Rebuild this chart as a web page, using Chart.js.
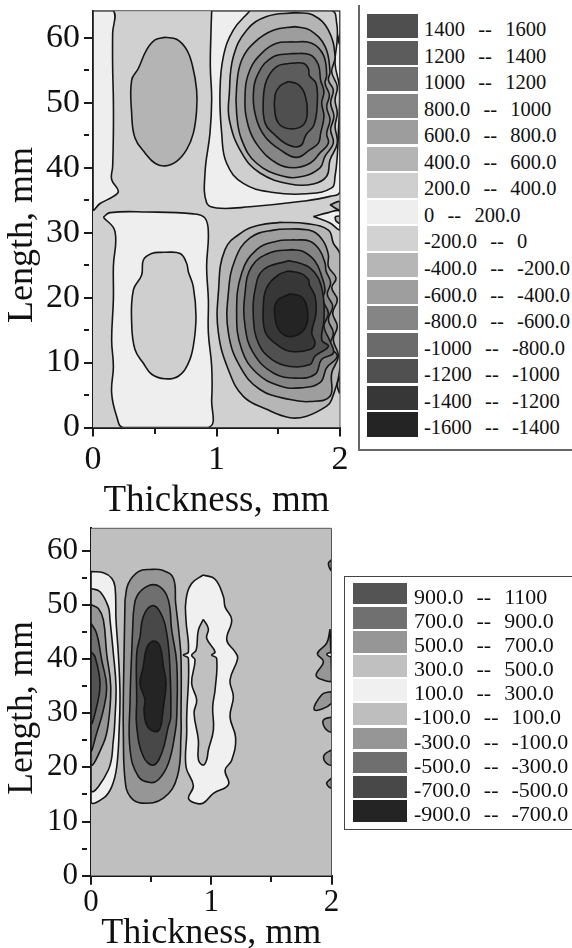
<!DOCTYPE html>
<html><head><meta charset="utf-8">
<script src="https://cdn.jsdelivr.net/npm/chart.js@4/dist/chart.umd.js"></script>
<style>
html,body{margin:0;padding:0;background:#fff;overflow:hidden}
#page{position:relative;width:572px;height:948px;overflow:hidden;font-family:"Liberation Serif",serif;color:#111}
canvas{position:absolute;left:0}
.frame{position:absolute;box-sizing:border-box}
.sw{position:absolute}
.lb{position:absolute;white-space:pre}
</style></head><body>
<div id="page">
<canvas id="c1" width="355" height="520" style="top:0"></canvas>
<canvas id="c2" width="355" height="428" style="top:520px"></canvas>
</div>
<script>
/* ---------- axis values ---------- */
const thicknessMax = 2;
const topLengthMax = 64.2;
const lowLengthMax = 64.1;

/* ---------- upper map: contour outlines as [thickness mm, length mm] ---------- */
const stripTopLeft = [[0,64.2],[.165,64.2],[.159,60.7],[.159,55.6],[.165,50.4],[.165,45.3],[.159,40.2],[.151,38.2],[.205,36.4],[.165,35.6],[.057,34.5],[0,33.6]];
const ovalTop = [[.583,60.1],[.677,59.8],[.758,58.2],[.807,55.6],[.839,52],[.839,48.9],[.812,45.3],[.758,42.8],[.677,41],[.583,40.3],[.502,40.7],[.421,42.3],[.34,44.6],[.313,48.4],[.313,53.5],[.367,55.3],[.435,58.2],[.502,59.7]];
const blockBottom = [[.084,32.4],[.138,33.1],[.435,33.2],[.812,32.9],[.907,32.25],[.934,29.9],[.92,24.8],[.934,19.7],[.934,14.6],[.961,9.4],[.961,4.3],[.934,0],[.245,0],[.192,1.7],[.151,5.3],[.165,9.4],[.151,13.5],[.165,19.7],[.165,24.8],[.178,30.2]];
const ovalBottom = [[.569,27],[.705,26.8],[.758,25.3],[.772,24],[.812,21.7],[.834,17.1],[.812,12.5],[.772,9.9],[.691,7.9],[.583,7.5],[.475,8.2],[.408,9.9],[.34,12],[.313,16.1],[.327,21.2],[.394,23.5],[.408,25.8],[.475,26.8]];
const posZero = [[.961,64.2],[2,64.2],[2,36.4],[1.919,35.6],[1.676,34.8],[1.271,34],[1.001,33.8],[.92,34.6],[.907,39.2],[.947,45.3],[.961,50.5],[.95,55.6],[.955,60.7]];
const pos200 = [[1.271,64.2],[1.933,64.2],[1.973,62.3],[1.977,59.7],[1.96,56.1],[1.995,52.5],[1.995,49],[1.987,45.3],[1.978,41.8],[1.96,38.7],[1.933,36.9],[1.73,36],[1.46,36.2],[1.217,37.6],[1.082,40.7],[1.042,45.3],[1.028,51.5],[1.055,57.1],[1.136,61.2]];
const pos400 = [[1.636,63.9],[1.784,63.5],[1.906,61.2],[1.96,57.1],[1.933,54.8],[1.978,52.5],[1.96,50.5],[1.978,48.4],[1.96,46.4],[1.978,43.8],[1.919,41.2],[1.892,38.7],[1.784,37.5],[1.595,37.5],[1.352,39.2],[1.204,42.3],[1.104,47.4],[1.104,51.5],[1.136,57.1],[1.244,61.2],[1.406,63.3]];
const pos600 = [[1.636,61.75],[1.757,61.2],[1.879,58.7],[1.919,54.8],[1.906,53.5],[1.946,52],[1.924,50],[1.951,47.9],[1.924,45.9],[1.946,43.8],[1.879,41.8],[1.838,40],[1.703,38.7],[1.541,38.7],[1.325,40.7],[1.204,44.3],[1.163,48.4],[1.163,52.5],[1.204,56.6],[1.312,59.4],[1.46,61.2]];
const pos800 = [[1.609,59.4],[1.771,59.2],[1.865,57.4],[1.892,54.3],[1.879,53],[1.914,51.2],[1.892,49.4],[1.919,47.4],[1.892,45.3],[1.906,43.8],[1.838,42.3],[1.757,40.7],[1.622,40],[1.487,40.7],[1.339,43.3],[1.258,46.4],[1.231,51],[1.271,55.1],[1.379,57.9],[1.487,59.2]];
const pos1000 = [[1.609,57.6],[1.757,57.4],[1.825,55.85],[1.843,53.5],[1.87,51.7],[1.852,50],[1.87,47.9],[1.843,45.3],[1.825,43.8],[1.757,42.8],[1.649,41.6],[1.514,42.8],[1.393,44.8],[1.325,47.4],[1.298,51],[1.339,54.6],[1.46,57.1]];
const pos1200 = [[1.595,56.1],[1.703,56.1],[1.744,55.3],[1.752,54.2],[1.806,53],[1.816,50],[1.789,46.6],[1.725,45.1],[1.681,43.4],[1.582,43.5],[1.46,45.3],[1.393,46.9],[1.379,50.5],[1.406,53.5],[1.487,55.6]];
const pos1400 = [[1.582,53.3],[1.663,52.8],[1.717,51.2],[1.735,48.4],[1.703,46.6],[1.609,46],[1.514,46.6],[1.474,48.4],[1.474,51.2],[1.514,52.6]];
const neg200 = [[1.514,31.6],[1.73,31.4],[1.906,30.4],[1.946,28.4],[2,26.6],[2,9.4],[1.933,4.3],[1.892,3.3],[1.73,1.75],[1.595,1.5],[1.406,2.8],[1.217,4.8],[1.096,8.9],[1.015,14.6],[1.015,20.7],[1.069,27.4],[1.217,30.2],[1.352,31.2]];
const neg400 = [[1.649,30.6],[1.784,30.2],[1.865,28.7],[1.906,26.6],[1.906,24.8],[1.968,23],[1.933,21.5],[1.978,19.7],[1.941,17.6],[1.978,15.6],[1.946,13.5],[1.987,11],[1.933,8.4],[1.919,4.8],[1.757,4],[1.595,4.3],[1.352,5.85],[1.19,9.4],[1.096,14.6],[1.096,20.7],[1.15,25.85],[1.271,29.2],[1.46,30.4]];
const neg600 = [[1.622,28.9],[1.757,28.7],[1.833,27.4],[1.879,25.3],[1.887,24.1],[1.924,22.3],[1.897,20.5],[1.941,18.7],[1.906,16.6],[1.946,14.6],[1.919,12.5],[1.978,11],[1.892,9.2],[1.838,6.9],[1.676,6.1],[1.514,6.4],[1.325,8.4],[1.204,12],[1.163,17.6],[1.204,23.8],[1.325,27.4],[1.487,28.7]];
const neg800 = [[1.609,27.4],[1.703,27.1],[1.798,25.6],[1.852,23.3],[1.879,21.2],[1.86,19.7],[1.906,17.6],[1.87,15.6],[1.914,13.5],[1.946,11.5],[1.852,10.5],[1.798,8.2],[1.649,7.6],[1.46,8.4],[1.298,11.5],[1.231,15.6],[1.231,20.7],[1.285,24.8],[1.433,26.9]];
const neg1000 = [[1.582,25.7],[1.676,25.3],[1.757,24.6],[1.825,23],[1.865,20.2],[1.87,16.6],[1.852,13.5],[1.906,12.5],[1.798,11],[1.757,9.7],[1.595,9.4],[1.447,10.5],[1.339,13],[1.298,17.1],[1.312,21.2],[1.379,24.3]];
const neg1200 = [[1.582,24.1],[1.69,23.7],[1.744,22.8],[1.752,22],[1.798,20.2],[1.806,17.6],[1.771,14.6],[1.798,13],[1.757,12],[1.595,11.75],[1.474,13],[1.393,14.8],[1.379,18.7],[1.406,21.5],[1.501,23.5]];
const neg1400 = [[1.595,20.6],[1.69,20.1],[1.735,18.2],[1.717,15.3],[1.609,14],[1.514,14.8],[1.474,16.9],[1.487,19.4]];
const wedgeRight = [[1.784,32.5],[1.906,33.1],[2,33.3],[2,30.5],[1.919,31.5]];
const patchRightA = [[1.919,34.3],[2,34.8],[2,33.5]];
const patchRightB = [[1.96,32.5],[2,32.5],[2,31.5],[1.968,31.8]];
const lensRight = [[2,7.9],[1.978,6.6],[2,5.3]];
const nickRight = [[2,60.7],[1.987,59.7],[2,59]];

/* ---------- lower map ---------- */
const leftA = [[0,56.1],[.103,55.9],[.172,54.9],[.2,53.3],[.208,47.2],[.227,41],[.241,33.6],[.235,27.5],[.214,20.1],[.172,16.4],[.103,14.3],[0,13.7]];
const leftB = [[0,53],[.075,52.4],[.144,49.6],[.158,47.2],[.186,41],[.208,34.9],[.2,29.3],[.186,25],[.144,19.5],[0,15.9]];
const leftC = [[0,50],[.061,49.3],[.103,47.2],[.13,41],[.164,34.9],[.144,28.1],[.103,24.4],[0,20.7]];
const leftD = [[0,46.6],[.047,44.7],[.089,39.8],[.13,34.9],[.103,30.6],[.047,26.3],[0,23.2]];
const leftE = [[0,41.3],[.033,40.4],[.075,35.5],[.047,31.2],[0,28.1]];
const midA = [[.283,50.9],[.31,53.9],[.394,56.1],[.491,56.5],[.602,56.3],[.685,54.9],[.704,50.3],[.732,44.7],[.749,39.8],[.749,29.3],[.749,26.3],[.718,18.3],[.602,14.3],[.422,13.4],[.325,14.6],[.283,17.7],[.269,26.3],[.269,32.4],[.275,41]];
const midB = [[.352,48.4],[.38,51.5],[.477,53.5],[.574,53.3],[.643,50.9],[.671,45.3],[.713,39.2],[.713,29.3],[.699,26.3],[.643,20.7],[.56,17.7],[.491,17.2],[.394,18.3],[.325,23.2],[.325,32.4],[.338,41]];
const midC = [[.408,44.1],[.435,47.8],[.505,49.8],[.574,48.7],[.63,44.7],[.657,37.9],[.663,29.3],[.643,27.5],[.588,22.6],[.519,20.4],[.435,22],[.38,27.5],[.38,32.4],[.38,41]];
const midD = [[.449,41],[.477,42.6],[.524,43.3],[.574,42.3],[.602,38.6],[.624,35.5],[.602,31],[.596,30],[.574,27.2],[.524,26.6],[.463,27.8],[.441,30.6],[.449,32.4],[.408,35.5],[.435,38.6]];
const blobOuter = [[.934,55.5],[1.032,54.7],[1.101,51.5],[1.115,49.6],[1.17,47.2],[1.129,43.5],[1.198,41.3],[1.22,40.1],[1.156,36.1],[1.184,33],[1.156,29.3],[1.203,25.4],[1.17,21.3],[1.115,19.5],[1.143,16.8],[1.018,15.2],[.934,13.4],[.865,13.4],[.81,14.3],[.851,16.6],[.79,20.1],[.796,26.3],[.796,29.3],[.81,40.1],[.768,40.7],[.81,41.3],[.79,47.2],[.79,50.9],[.837,53.9]];
const blobInner = [[.934,47.3],[.976,45.6],[.962,43.8],[1.032,41.3],[1.004,40.7],[1.045,40.1],[1.032,34.3],[1.012,31.2],[1.018,26.9],[.976,23.2],[.962,21.4],[.934,20.4],[.893,21.4],[.893,25],[.857,30],[.879,32.4],[.837,35.5],[.865,39.8],[.837,40.7],[.874,41.6],[.893,45.3]];
const edgeA = [[2,58.3],[1.974,57.6],[2,56.3]];
const edgeB = [[1.988,45.5],[1.96,42.9],[1.883,41],[1.933,39.5],[1.872,37],[1.933,36.1],[2,36.1]];
const edgeBHole = [[2,41.3],[1.96,40.85],[2,40.4]];
const edgeC = [[2,34],[1.919,33.4],[1.858,30.6],[2,31.8]];
const edgeD = [[2,29.3],[1.933,28.7],[1.947,27.2],[2,26.6]];
const edgeE = [[2,23.2],[1.94,22.3],[1.947,21],[2,20.5]];
const edgeF = [[2,18],[1.96,17],[2,16.2]];

/* ---------- legends ---------- */
const topLegendLabels = ["1400  --  1600","1200  --  1400","1000  --  1200","800.0  --  1000","600.0  --  800.0","400.0  --  600.0","200.0  --  400.0","0  --  200.0","-200.0  --  0","-400.0  --  -200.0","-600.0  --  -400.0","-800.0  --  -600.0","-1000  --  -800.0","-1200  --  -1000","-1400  --  -1200","-1600  --  -1400"];
const topLegendColors = ["#4f4f4f","#5c5c5c","#707070","#868686","#9d9d9d","#b4b4b4","#cfcfcf","#eeeeee","#d2d2d2","#b6b6b6","#9e9e9e","#858585","#6b6b6b","#505050","#373737","#242424"];
const lowLegendLabels = ["900.0  --  1100","700.0  --  900.0","500.0  --  700.0","300.0  --  500.0","100.0  --  300.0","-100.0  --  100.0","-300.0  --  -100.0","-500.0  --  -300.0","-700.0  --  -500.0","-900.0  --  -700.0"];
const lowLegendColors = ["#545454","#707070","#969696","#c0c0c0","#f0f0f0","#bebebe","#969696","#6f6f6f","#484848","#242424"];

/* ---------- painting order, back to front ---------- */
const topLayers = [
 [[[0,0],[2,0],[2,64.2],[0,64.2]],"#d0d0d0",0],
 [stripTopLeft,"#eeeeee"],[ovalTop,"#b4b4b4"],[blockBottom,"#eeeeee"],[ovalBottom,"#cfcfcf"],
 [posZero,"#eeeeee"],[pos200,"#cfcfcf"],[pos400,"#b4b4b4"],[pos600,"#9d9d9d"],[pos800,"#868686"],[pos1000,"#707070"],[pos1200,"#5c5c5c"],[pos1400,"#4f4f4f"],
 [neg200,"#b6b6b6"],[neg400,"#9e9e9e"],[neg600,"#858585"],[neg800,"#6b6b6b"],[neg1000,"#505050"],[neg1200,"#373737"],[neg1400,"#242424"],
 [wedgeRight,"#eeeeee"],[patchRightA,"#b4b4b4"],[patchRightB,"#b6b6b6"],[lensRight,"#b6b6b6"],[nickRight,"#9d9d9d"]
];
const lowLayers = [
 [[[0,0],[2,0],[2,64.1],[0,64.1]],"#bfbfbf",0],
 [leftA,"#f0f0f0"],[leftB,"#c0c0c0"],[leftC,"#969696"],[leftD,"#707070"],[leftE,"#545454"],
 [midA,"#969696"],[midB,"#6f6f6f"],[midC,"#484848"],[midD,"#242424"],
 [blobOuter,"#f0f0f0"],[blobInner,"#c0c0c0"],
 [edgeA,"#969696"],[edgeB,"#969696"],[edgeBHole,"#f0f0f0"],[edgeC,"#969696"],[edgeD,"#969696"],[edgeE,"#969696"],[edgeF,"#969696"]
];

function toDatasets(layers){
  return layers.map((l,i)=>{
    const pts=l[0].concat([l[0][0]]).map(p=>({x:p[0],y:p[1]}));
    const isBase=l[2]===0;
    return {data:pts,showLine:true,fill:'shape',backgroundColor:l[1],
      borderColor:isBase?'transparent':'#161616',borderWidth:isBase?0:1.6,
      tension:isBase?0:0.42,pointRadius:0,pointHoverRadius:0,order:layers.length-i};
  });
}
const frame={id:'frame',afterDatasetsDraw(c){
  const a=c.chartArea,x=c.ctx;x.save();x.strokeStyle='#555';x.lineWidth=1;
  x.beginPath();x.moveTo(a.left,a.top);x.lineTo(a.right,a.top);x.lineTo(a.right,a.bottom);x.stroke();x.restore();
}};
function shiftTitle(dy){return {id:'shiftTitle',beforeDraw(c){
  const s=c.scales.y;if(s._shifted)return;s._shifted=true;const o=s.drawTitle;
  s.drawTitle=function(){c.ctx.save();c.ctx.translate(0,dy);o.call(this);c.ctx.restore();};
}};}
function make(id,layers,o){
  const serif='"Liberation Serif"';
  const noPad=s=>{s.paddingLeft=s.paddingRight=s.paddingTop=s.paddingBottom=0;};
  new Chart(document.getElementById(id),{type:'scatter',
    data:{datasets:toDatasets(layers)},
    plugins:[frame,shiftTitle(o.titleShift)],
    options:{responsive:false,animation:false,events:[],
      layout:{padding:{left:0,top:o.top,right:o.right,bottom:0}},
      plugins:{legend:{display:false},tooltip:{enabled:false}},
      scales:{
        x:{type:'linear',min:0,max:thicknessMax,
          afterFit:s=>{s.height=o.xH;noPad(s);},
          border:{display:true,color:'#1a1a1a',width:2},
          grid:{drawOnChartArea:false,color:'#1a1a1a',lineWidth:2,tickLength:9,tickColor:'#1a1a1a',tickWidth:2,
            tickBorderDash:c=>Number.isInteger(c.tick.value)?[]:[5,100]},
          ticks:{stepSize:.5,autoSkip:false,maxRotation:0,includeBounds:false,padding:o.xPad,color:'#111',
            font:{family:serif,size:o.tickSize},callback:v=>Number.isInteger(v)?String(v):''},
          title:{display:true,text:'Thickness, mm',color:'#111',font:{family:serif,size:o.xTitle,lineHeight:1},padding:{top:0,bottom:o.xTitlePad}}},
        y:{type:'linear',min:0,max:o.yMax,
          afterFit:s=>{s.width=o.left;noPad(s);},
          border:{display:true,color:'#1a1a1a',width:2},
          grid:{drawOnChartArea:false,color:'#1a1a1a',lineWidth:2,tickLength:9,tickColor:'#1a1a1a',tickWidth:2,
            tickBorderDash:c=>c.tick.value%10===0?[]:[5,100]},
          ticks:{stepSize:5,autoSkip:false,includeBounds:false,padding:4,color:'#111',
            font:{family:serif,size:o.tickSize},callback:v=>v%10===0?String(v):''},
          title:{display:true,text:'Length, mm',color:'#111',font:{family:serif,size:o.yTitle,lineHeight:1},padding:{top:o.yTitlePad,bottom:0}}}
      }}});
}
make('c1',topLayers,{top:10.7,right:15,left:93,xH:92.5,yMax:topLengthMax,tickSize:34,xTitle:37,yTitle:36,xPad:3,xTitlePad:0,yTitlePad:5,titleShift:16});
make('c2',lowLayers,{top:8.3,right:23.5,left:91,xH:72.3,yMax:lowLengthMax,tickSize:31,xTitle:36,yTitle:35.5,xPad:0,xTitlePad:-4,yTitlePad:5,titleShift:6});

/* ---------- legend boxes ---------- */
function legend(labels,colors,g){
  const page=document.getElementById('page');
  const f=document.createElement('div');f.className='frame';
  f.style.cssText=`left:${g.fx}px;top:${g.fy}px;width:${600-g.fx}px;height:${g.fb-g.fy}px;border:${g.bw}px solid ${g.bc};${g.noTop?'border-top:none;':''}`;
  page.appendChild(f);
  labels.forEach((t,i)=>{
    const y=g.y0+i*g.step;
    const s=document.createElement('div');s.className='sw';
    s.style.cssText=`left:${g.sx}px;top:${y}px;width:${g.sw}px;height:${g.sh}px;background:${colors[i]}`;
    page.appendChild(s);
    const l=document.createElement('div');l.className='lb';l.textContent=t;
    l.style.cssText=`left:${g.tx}px;top:${y+3}px;height:${g.sh}px;line-height:${g.sh}px;font-size:${g.fs}px;word-spacing:${g.ws}px`;
    page.appendChild(l);
  });
}
legend(topLegendLabels,topLegendColors,{fx:358,fy:5,fb:451,bw:2,bc:'#666',noTop:true,sx:366.7,sw:51,y0:14,step:26.55,sh:24.3,tx:424,fs:20.5,ws:1.5});
legend(lowLegendLabels,lowLegendColors,{fx:344,fy:576,fb:830,bw:1.5,bc:'#444',sx:353.3,sw:53.4,y0:582.7,step:24.15,sh:21.7,tx:414,fs:22,ws:1});
</script>
</body></html>
